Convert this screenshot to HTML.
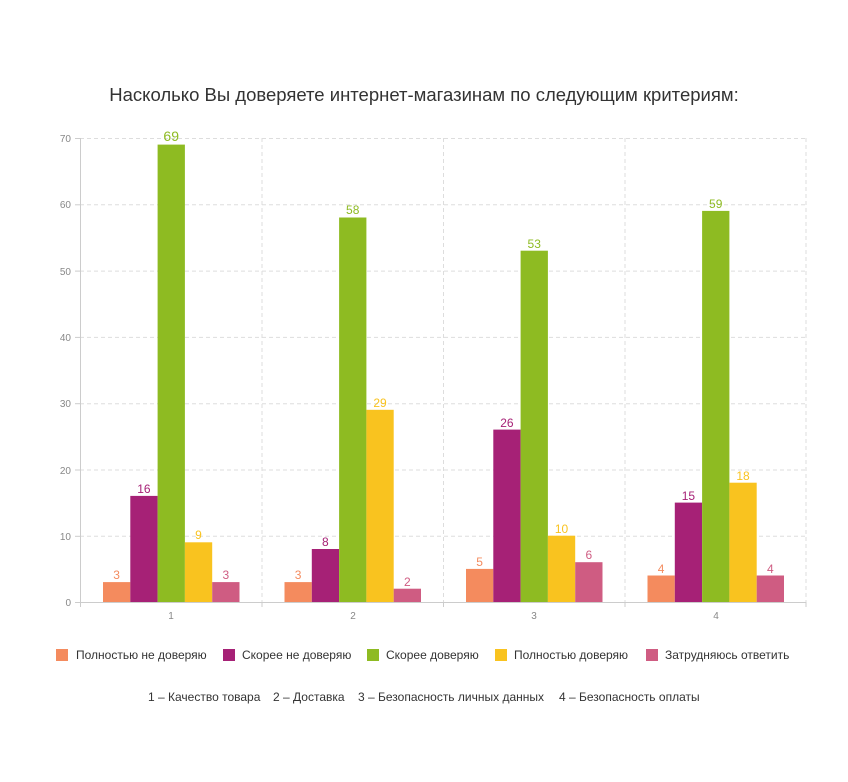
<!DOCTYPE html>
<html><head><meta charset="utf-8"><style>
body{margin:0;background:#fff;}
svg{display:block;font-family:"Liberation Sans","DejaVu Sans",sans-serif;}
</style></head><body>
<svg width="848" height="782" viewBox="0 0 848 782">
<text x="424" y="101" text-anchor="middle" font-size="18.5" fill="#333">Насколько Вы доверяете интернет-магазинам по следующим критериям:</text>
<g stroke="#ddd" stroke-dasharray="4,3" stroke-width="1">
<line x1="80" x2="806" y1="138.5" y2="138.5"/>
<line x1="80" x2="806" y1="204.8" y2="204.8"/>
<line x1="80" x2="806" y1="271.1" y2="271.1"/>
<line x1="80" x2="806" y1="337.4" y2="337.4"/>
<line x1="80" x2="806" y1="403.7" y2="403.7"/>
<line x1="80" x2="806" y1="470" y2="470"/>
<line x1="80" x2="806" y1="536.3" y2="536.3"/>
<line x1="262" x2="262" y1="138" y2="602"/>
<line x1="443.5" x2="443.5" y1="138" y2="602"/>
<line x1="625" x2="625" y1="138" y2="602"/>
<line x1="806" x2="806" y1="138" y2="602"/>
</g>
<g stroke="#ccc" stroke-width="1">
<line x1="80.5" x2="80.5" y1="138" y2="607"/>
<line x1="75" x2="806" y1="602.5" y2="602.5"/>
<line x1="75" x2="80" y1="138.5" y2="138.5"/><line x1="75" x2="80" y1="204.8" y2="204.8"/><line x1="75" x2="80" y1="271.1" y2="271.1"/><line x1="75" x2="80" y1="337.4" y2="337.4"/><line x1="75" x2="80" y1="403.7" y2="403.7"/><line x1="75" x2="80" y1="470" y2="470"/><line x1="75" x2="80" y1="536.3" y2="536.3"/>
<line x1="262" x2="262" y1="602" y2="607"/><line x1="443.5" x2="443.5" y1="602" y2="607"/><line x1="625" x2="625" y1="602" y2="607"/><line x1="806" x2="806" y1="602" y2="607"/>
</g>
<g font-size="10" fill="#888" text-anchor="end">
<text x="71" y="142">70</text><text x="71" y="208">60</text><text x="71" y="275">50</text><text x="71" y="341">40</text><text x="71" y="407">30</text><text x="71" y="474">20</text><text x="71" y="540">10</text><text x="71" y="606">0</text>
</g>
<g font-size="10" fill="#888" text-anchor="middle">
<text x="171" y="619">1</text><text x="353" y="619">2</text><text x="534" y="619">3</text><text x="716" y="619">4</text>
</g>
<g>
<rect x="103" y="582.1" width="27.3" height="19.9" fill="#F48B5E"/>
<rect x="130.3" y="495.9" width="27.3" height="106.1" fill="#A62176"/>
<rect x="157.6" y="144.6" width="27.3" height="457.4" fill="#8EBB22"/>
<rect x="184.9" y="542.3" width="27.3" height="59.7" fill="#F9C31F"/>
<rect x="212.2" y="582.1" width="27.3" height="19.9" fill="#CF5C82"/>
<rect x="284.5" y="582.1" width="27.3" height="19.9" fill="#F48B5E"/>
<rect x="311.8" y="549" width="27.3" height="53" fill="#A62176"/>
<rect x="339.1" y="217.5" width="27.3" height="384.5" fill="#8EBB22"/>
<rect x="366.4" y="409.8" width="27.3" height="192.2" fill="#F9C31F"/>
<rect x="393.7" y="588.7" width="27.3" height="13.3" fill="#CF5C82"/>
<rect x="466" y="568.9" width="27.3" height="33.1" fill="#F48B5E"/>
<rect x="493.3" y="429.6" width="27.3" height="172.4" fill="#A62176"/>
<rect x="520.6" y="250.7" width="27.3" height="351.3" fill="#8EBB22"/>
<rect x="547.9" y="535.7" width="27.3" height="66.3" fill="#F9C31F"/>
<rect x="575.2" y="562.2" width="27.3" height="39.8" fill="#CF5C82"/>
<rect x="647.5" y="575.5" width="27.3" height="26.5" fill="#F48B5E"/>
<rect x="674.8" y="502.6" width="27.3" height="99.4" fill="#A62176"/>
<rect x="702.1" y="210.9" width="27.3" height="391.1" fill="#8EBB22"/>
<rect x="729.4" y="482.7" width="27.3" height="119.3" fill="#F9C31F"/>
<rect x="756.7" y="575.5" width="27.3" height="26.5" fill="#CF5C82"/>
</g>
<g font-size="12" text-anchor="middle">
<text x="116.6" y="579" fill="#F48B5E">3</text>
<text x="143.9" y="493" fill="#A62176">16</text>
<text x="171.2" y="141" fill="#8EBB22" font-size="14">69</text>
<text x="198.5" y="539" fill="#F9C31F">9</text>
<text x="225.8" y="579" fill="#CF5C82">3</text>
<text x="298.1" y="579" fill="#F48B5E">3</text>
<text x="325.4" y="546" fill="#A62176">8</text>
<text x="352.7" y="214" fill="#8EBB22">58</text>
<text x="380" y="407" fill="#F9C31F">29</text>
<text x="407.3" y="586" fill="#CF5C82">2</text>
<text x="479.6" y="566" fill="#F48B5E">5</text>
<text x="506.9" y="427" fill="#A62176">26</text>
<text x="534.2" y="248" fill="#8EBB22">53</text>
<text x="561.5" y="533" fill="#F9C31F">10</text>
<text x="588.8" y="559" fill="#CF5C82">6</text>
<text x="661.1" y="573" fill="#F48B5E">4</text>
<text x="688.4" y="500" fill="#A62176">15</text>
<text x="715.7" y="208" fill="#8EBB22">59</text>
<text x="743" y="480" fill="#F9C31F">18</text>
<text x="770.3" y="573" fill="#CF5C82">4</text>
</g>
<g font-size="12" fill="#333">
<rect x="56" y="649" width="12" height="12" fill="#F48B5E"/><text x="76" y="659">Полностью не доверяю</text>
<rect x="223" y="649" width="12" height="12" fill="#A62176"/><text x="242" y="659">Скорее не доверяю</text>
<rect x="367" y="649" width="12" height="12" fill="#8EBB22"/><text x="386" y="659">Скорее доверяю</text>
<rect x="495" y="649" width="12" height="12" fill="#F9C31F"/><text x="514" y="659">Полностью доверяю</text>
<rect x="646" y="649" width="12" height="12" fill="#CF5C82"/><text x="665" y="659">Затрудняюсь ответить</text>
<text x="148" y="701">1 – Качество товара</text>
<text x="273" y="701">2 – Доставка</text>
<text x="358" y="701">3 – Безопасность личных данных</text>
<text x="559" y="701">4 – Безопасность оплаты</text>
</g>
</svg>
</body></html>
